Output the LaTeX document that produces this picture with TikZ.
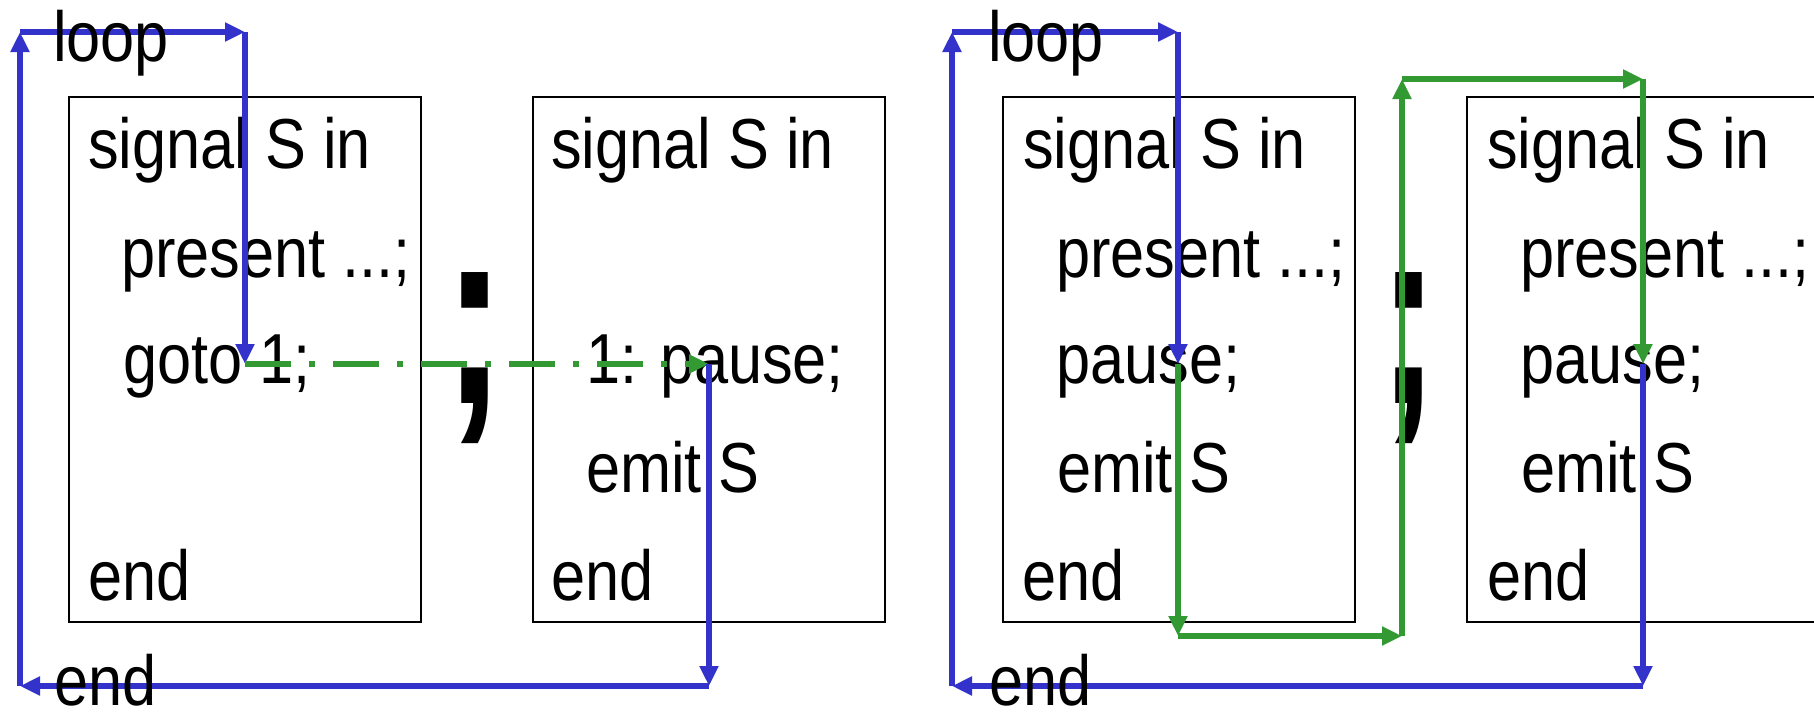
\documentclass[tikz,border=0pt]{standalone}
\usepackage{fontspec}
\setmainfont{Liberation Sans}
\usetikzlibrary{arrows.meta}
\definecolor{myblue}{RGB}{51,51,204}
\definecolor{mygreen}{RGB}{51,153,51}
\newcommand{\vs}[1]{\scalebox{1}[1.155]{#1}}
\begin{document}
\begin{tikzpicture}[x=1pt,y=-1pt,
  txt/.style={anchor=base west, inner sep=0pt, font=\fontsize{61.3}{72}\selectfont},
  codebox/.style={draw=black, line width=2pt, inner sep=0pt, anchor=north west, minimum width=352pt, minimum height=525pt},
  blu/.style={draw=myblue, line width=5.5pt, -{Triangle[length=20pt,width=18pt]}},
  grn/.style={draw=mygreen, line width=5.5pt, -{Triangle[length=20pt,width=18pt]}},
  grndash/.style={grn, dash pattern=on 46pt off 18pt on 6pt off 18pt},
  semi/.style={anchor=base, inner sep=0pt, font=\fontsize{188}{200}\selectfont\bfseries}]
\useasboundingbox (0,0) rectangle (1814,712);
% boxes
\node[codebox] (b1) at (68,96) {};
\node[codebox] (b2) at (532,96) {};
\node[codebox] (b3) at (1002,96) {};
\node[codebox] (b4) at (1466,96) {};
% box texts
\node[txt] (t11) at (88,168) {\vs{signal S in}};
\node[txt] (t12) at (121,277) {\vs{present ...;}};
\node[txt] (t13) at (123,383) {\vs{goto 1;}};
\node[txt] (t14) at (88,600) {\vs{end}};
\node[txt] (t21) at (551,168) {\vs{signal S in}};
\node[txt] (t22) at (586,383) {\vs{1: pause;}};
\node[txt] (t23) at (586,492) {\vs{emit S}};
\node[txt] (t24) at (551,600) {\vs{end}};
\node[txt] (t31) at (1023,168) {\vs{signal S in}};
\node[txt] (t32) at (1056,277) {\vs{present ...;}};
\node[txt] (t33) at (1056,383) {\vs{pause;}};
\node[txt] (t34) at (1057,492) {\vs{emit S}};
\node[txt] (t35) at (1022,600) {\vs{end}};
\node[txt] (t41) at (1487,168) {\vs{signal S in}};
\node[txt] (t42) at (1520,277) {\vs{present ...;}};
\node[txt] (t43) at (1520,383) {\vs{pause;}};
\node[txt] (t44) at (1521,492) {\vs{emit S}};
\node[txt] (t45) at (1487,600) {\vs{end}};
% semicolons
\node[semi] (s1) at (475,403) {\scalebox{1}[1.38]{;}};
\node[semi] (s2) at (1409,403) {\scalebox{1}[1.38]{;}};
% left panel coordinates
\coordinate (LA) at (20,686);
\coordinate (LB) at (20,32);
\coordinate (LC) at (245,32);
\coordinate (LD) at (245,364);
\coordinate (LE) at (709,364);
\coordinate (LF) at (709,686);
\draw[blu] (LA) -- (LB);
\draw[blu] (LB) -- (LC);
\draw[blu] (LC) -- (LD);
\draw[grndash] (LD) -- (LE);
\draw[blu] (LE) -- (LF);
\draw[blu] (LF) -- (LA);
% right panel coordinates
\coordinate (RA) at (952,686);
\coordinate (RB) at (952,32);
\coordinate (RC) at (1178,32);
\coordinate (RD) at (1178,364);
\coordinate (G1) at (1178,636);
\coordinate (G2) at (1402,636);
\coordinate (G3) at (1402,79);
\coordinate (G4) at (1643,79);
\coordinate (G5) at (1643,364);
\coordinate (RF) at (1643,686);
\draw[blu] (RA) -- (RB);
\draw[blu] (RB) -- (RC);
\draw[blu] (RC) -- (RD);
\draw[grn] (RD) -- (G1);
\draw[grn] (G1) -- (G2);
\draw[grn] (G2) -- (G3);
\draw[grn] (G3) -- (G4);
\draw[grn] (G4) -- (G5);
\draw[blu] (G5) -- (RF);
\draw[blu] (RF) -- (RA);
% loop / end labels
\node[txt] (loop1) at (53,61) {\vs{loop}};
\node[txt] (end1) at (54,705) {\vs{end}};
\node[txt] (loop2) at (988,61) {\vs{loop}};
\node[txt] (end2) at (989,705) {\vs{end}};
\end{tikzpicture}
\end{document}
